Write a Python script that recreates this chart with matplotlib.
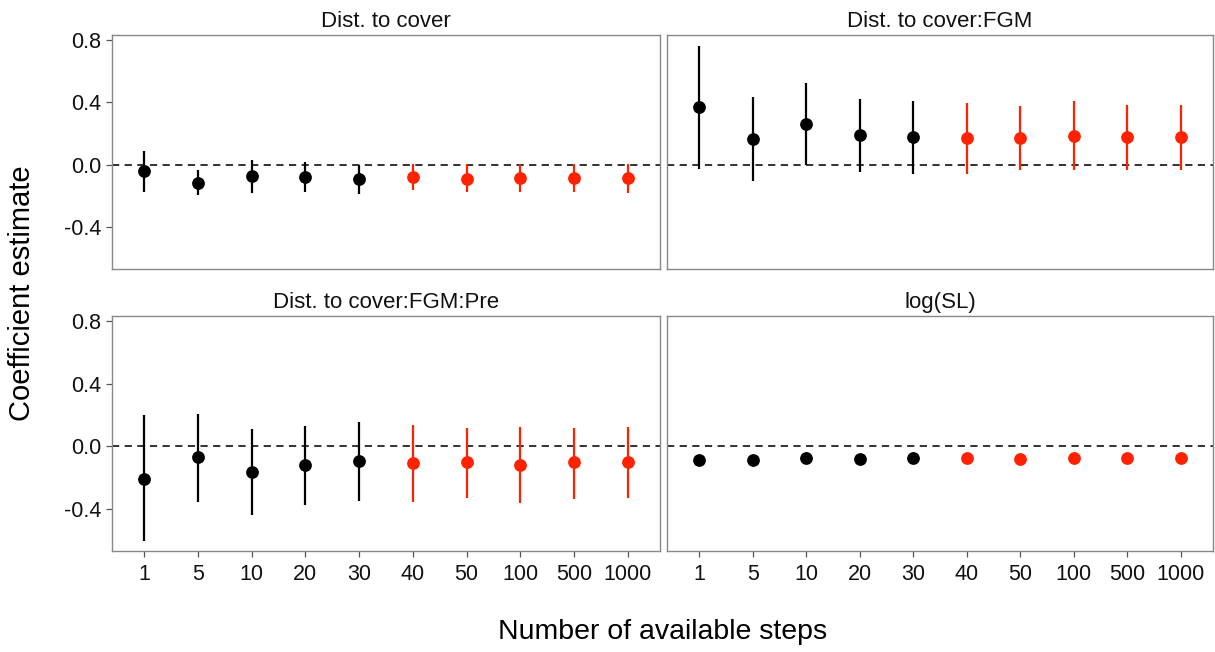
import matplotlib
matplotlib.use("Agg")
import matplotlib.pyplot as plt
import numpy as np

plt.rcParams['font.family'] = ['Liberation Sans', 'DejaVu Sans']

steps = ["1", "5", "10", "20", "30", "40", "50", "100", "500", "1000"]
panel_titles = ["Dist. to cover", "Dist. to cover:FGM", "Dist. to cover:FGM:Pre", "log(SL)"]

est_cover = [-0.04, -0.115, -0.074, -0.079, -0.091, -0.079, -0.091, -0.083, -0.083, -0.087]
lo_cover = [-0.174, -0.195, -0.178, -0.172, -0.185, -0.163, -0.172, -0.172, -0.176, -0.180]
hi_cover = [0.087, -0.034, 0.03, 0.017, 0.0, 0.003, 0.003, 0.003, 0.003, 0.003]

est_fgm = [0.367, 0.166, 0.261, 0.189, 0.176, 0.168, 0.170, 0.187, 0.176, 0.176]
lo_fgm = [-0.03, -0.104, 0.0, -0.047, -0.06, -0.06, -0.036, -0.036, -0.032, -0.032]
hi_fgm = [0.76, 0.431, 0.522, 0.422, 0.41, 0.395, 0.374, 0.41, 0.38, 0.38]

est_pre = [-0.206, -0.07, -0.162, -0.119, -0.094, -0.106, -0.10, -0.117, -0.102, -0.10]
lo_pre = [-0.606, -0.355, -0.438, -0.374, -0.351, -0.353, -0.33, -0.362, -0.334, -0.33]
hi_pre = [0.20, 0.206, 0.11, 0.132, 0.155, 0.138, 0.119, 0.121, 0.119, 0.123]

est_sl = [-0.089, -0.085, -0.074, -0.079, -0.072, -0.074, -0.083, -0.077, -0.077, -0.077]
lo_sl = [-0.097, -0.093, -0.082, -0.087, -0.080, -0.082, -0.091, -0.085, -0.085, -0.085]
hi_sl = [-0.081, -0.077, -0.066, -0.071, -0.064, -0.066, -0.075, -0.069, -0.069, -0.069]

n_black = 5
black = '#000000'
red = '#ff2200'

panels = [
    (est_cover, lo_cover, hi_cover),
    (est_fgm, lo_fgm, hi_fgm),
    (est_pre, lo_pre, hi_pre),
    (est_sl, lo_sl, hi_sl),
]

fig = plt.figure(figsize=(12.15, 6.52), dpi=100)
W, H = 1215, 652
boxes = [
    (112, 35, 660, 269),
    (667, 35, 1213, 269),
    (112, 316, 660, 551),
    (667, 316, 1213, 551),
]

x = np.arange(1, len(steps) + 1)
for i, ((est, lo, hi), (l, t, r, b)) in enumerate(zip(panels, boxes)):
    ax = fig.add_axes([l / W, 1 - b / H, (r - l) / W, (b - t) / H])
    ax.axhline(0, color='#222222', linestyle=(0, (4, 3)), linewidth=1.3, zorder=1)
    for j in range(len(steps)):
        c = black if j < n_black else red
        ax.plot([x[j], x[j]], [lo[j], hi[j]], color=c, linewidth=1.6, zorder=2, solid_capstyle='butt')
        ax.plot(x[j], est[j], 'o', color=c, markersize=9.2, markeredgewidth=0, zorder=3)
    ax.set_xlim(0.4, 10.6)
    ax.set_ylim(-0.667, 0.83)
    ax.set_yticks([-0.4, 0.0, 0.4, 0.8])
    ax.set_xticks(x)
    for sp in ax.spines.values():
        sp.set_color('#888888')
        sp.set_linewidth(1.0)
    ax.tick_params(axis='both', colors='#555555', length=4, width=0.9, labelsize=15.5,
                   labelcolor='#111111')
    ax.tick_params(axis='x', pad=5)
    ax.tick_params(axis='y', pad=4)
    if i % 2 == 0:
        ax.set_yticklabels(['-0.4', '0.0', '0.4', '0.8'])
    else:
        ax.tick_params(axis='y', left=False, labelleft=False)
    if i >= 2:
        ax.set_xticklabels(steps)
    else:
        ax.tick_params(axis='x', bottom=False, labelbottom=False)
    ax.set_title(panel_titles[i], fontsize=16, color='#111111', pad=6)

fig.text(663 / W, 1 - 632 / H, "Number of available steps", ha='center', va='center', fontsize=20.5)
fig.text(22 / W, 1 - 293 / H, "Coefficient estimate", ha='center', va='center', rotation=90, fontsize=21)

fig.savefig("out.png", dpi=100)
